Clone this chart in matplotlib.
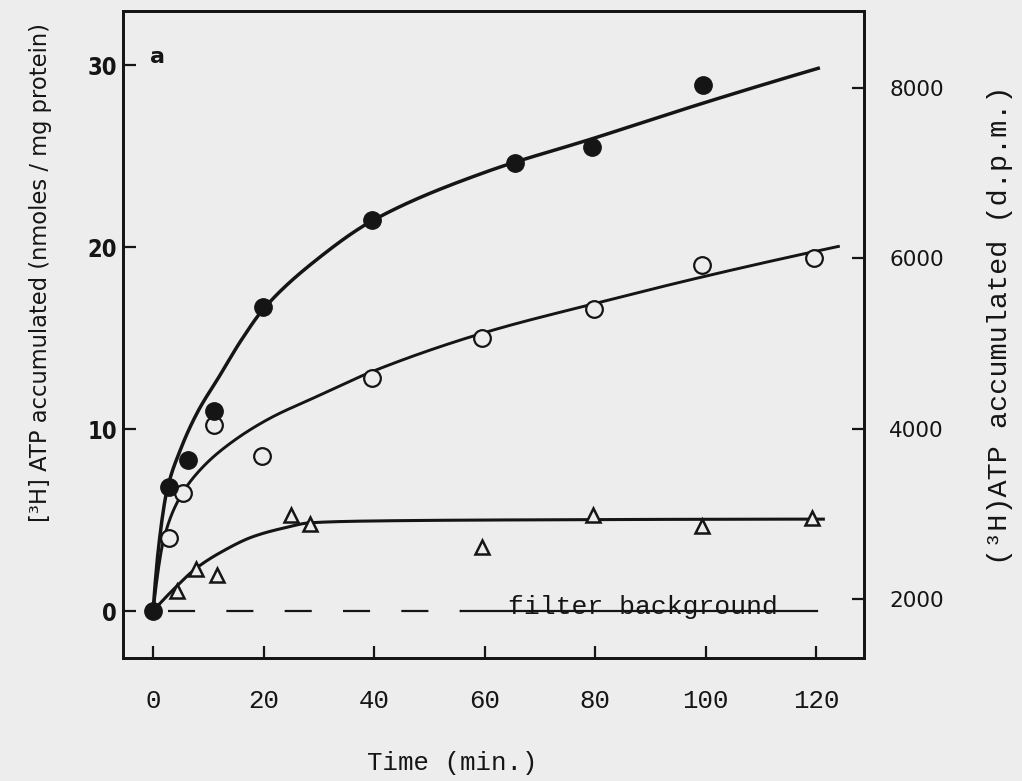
import numpy as np
import matplotlib
matplotlib.use("Agg")
import matplotlib.pyplot as plt

plt.rcParams["lines.scale_dashes"] = False

# --- measured points -------------------------------------------------------
time_filled = [0, 2.8, 6.4, 11.1, 19.9, 39.7, 65.6, 79.4, 99.5]
atp_filled = [0, 6.8, 8.3, 11.0, 16.7, 21.5, 24.6, 25.5, 28.9]

time_open = [2.9, 5.5, 11.1, 19.7, 39.6, 59.5, 79.8, 99.3, 119.7]
atp_open = [4.0, 6.5, 10.2, 8.5, 12.8, 15.0, 16.6, 19.0, 19.4]

time_tri = [4.4, 7.8, 11.6, 25.0, 28.4, 59.5, 79.7, 99.3, 119.2]
atp_tri = [1.1, 2.3, 2.0, 5.3, 4.8, 3.5, 5.3, 4.7, 5.1]

# --- hand-drawn trend curves (knots along each curve) ----------------------
curve_filled_t = [0, 1.0, 2.5, 5, 8, 12, 16, 20, 30, 40, 60, 80, 100, 120.7]
curve_filled_v = [0, 3.5, 6.6, 8.9, 10.9, 12.9, 14.9, 16.6, 19.4, 21.5, 24.1, 26.0, 27.95, 29.85]

curve_open_t = [0, 1.9, 4.6, 8.5, 13.9, 21.2, 29.0, 40, 60, 80, 100, 124.3]
curve_open_v = [0, 3.9, 6.1, 7.75, 9.2, 10.6, 11.7, 13.2, 15.3, 16.9, 18.4, 20.05]

curve_tri_t = [0, 4.4, 7.8, 12.1, 18.2, 24.2, 28.4, 40, 60, 121.6]
curve_tri_v = [0, 1.4, 2.35, 3.2, 4.1, 4.6, 4.85, 4.95, 5.0, 5.05]

# --- axis ticks ------------------------------------------------------------
x_ticks = [0, 20, 40, 60, 80, 100, 120]
y_ticks = [0, 10, 20, 30]
dpm_ticks = [2000, 4000, 6000, 8000]

# linear relation between the right (d.p.m.) and left (nmoles/mg) scales
dpm_slope = 0.004676
dpm_offset = -8.68


def pchip(x, y, xn):
    """Monotone cubic Hermite curve through the knots."""
    x = np.asarray(x, float)
    y = np.asarray(y, float)
    h = np.diff(x)
    d = np.diff(y) / h
    m = np.zeros_like(y)
    for k in range(1, len(x) - 1):
        if d[k - 1] * d[k] > 0:
            w1 = 2 * h[k] + h[k - 1]
            w2 = h[k] + 2 * h[k - 1]
            m[k] = (w1 + w2) / (w1 / d[k - 1] + w2 / d[k])
    m[0] = ((2 * h[0] + h[1]) * d[0] - h[0] * d[1]) / (h[0] + h[1])
    if np.sign(m[0]) != np.sign(d[0]):
        m[0] = 0
    m[-1] = ((2 * h[-1] + h[-2]) * d[-1] - h[-1] * d[-2]) / (h[-1] + h[-2])
    if np.sign(m[-1]) != np.sign(d[-1]):
        m[-1] = 0
    idx = np.clip(np.searchsorted(x, xn) - 1, 0, len(x) - 2)
    s = (xn - x[idx]) / h[idx]
    h00 = 2 * s**3 - 3 * s**2 + 1
    h10 = s**3 - 2 * s**2 + s
    h01 = -2 * s**3 + 3 * s**2
    h11 = s**3 - s**2
    return (h00 * y[idx] + h10 * h[idx] * m[idx]
            + h01 * y[idx + 1] + h11 * h[idx] * m[idx + 1])


paper = "#ededed"
ink = "#151515"
mono = "Liberation Mono"

fig = plt.figure(figsize=(10.22, 7.81), dpi=100, facecolor=paper)
ax = fig.add_axes([0.1204, 0.1575, 0.7251, 0.8284], facecolor=paper)

xlim = (-5.43, 128.7)
ylim = (-2.58, 32.97)
ax.set_xlim(*xlim)
ax.set_ylim(*ylim)

for name, spine in ax.spines.items():
    spine.set_linewidth(2.0)
    spine.set_color(ink)

# trend curves
for ts, vs, lw in [(curve_filled_t, curve_filled_v, 2.5),
                   (curve_open_t, curve_open_v, 2.1),
                   (curve_tri_t, curve_tri_v, 2.2)]:
    tt = np.linspace(ts[0], ts[-1], 600)
    ax.plot(tt, pchip(ts, vs, tt), color=ink, lw=lw, solid_capstyle="butt",
            zorder=2)

# filter background baseline
ax.plot([2.7, 55.7], [0, 0], color=ink, lw=1.6, dashes=(19.5, 22.5), zorder=1)
ax.plot([55.7, 120.2], [0, 0], color=ink, lw=1.6, zorder=1)
ax.text(88.6, -0.15, "filter background", fontfamily=mono, fontsize=19,
        ha="center", va="baseline", color=ink, zorder=3)

# data markers
ax.plot(time_tri, atp_tri, linestyle="none", marker="^", ms=9.5, mfc=paper,
        mec=ink, mew=1.8, zorder=4)
ax.plot(time_open, atp_open, linestyle="none", marker="o", ms=12, mfc=paper,
        mec=ink, mew=1.6, zorder=4)
ax.plot(time_filled, atp_filled, linestyle="none", marker="o", ms=12.5,
        mfc=ink, mec=ink, mew=1.0, zorder=5)

ax.text(0.047, 0.929, "a", transform=ax.transAxes, fontfamily="DejaVu Sans",
        fontweight="bold", fontsize=16, ha="center", va="center", color=ink)

# left axis
ax.set_yticks(y_ticks)
ax.set_yticklabels([str(v) for v in y_ticks], fontfamily="DejaVu Sans",
                   fontstretch="condensed", fontweight="bold", fontsize=17)
ax.tick_params(axis="y", direction="in", length=9, width=1.6, pad=4.5,
               colors=ink, right=False)

# bottom axis
ax.set_xticks(x_ticks)
ax.set_xticklabels([str(v) for v in x_ticks], fontfamily=mono, fontsize=18.5)
ax.tick_params(axis="x", direction="in", length=9, width=1.6, pad=22,
               colors=ink, top=False)

# right axis in d.p.m.
ax2 = ax.twinx()
ax2.set_ylim((ylim[0] - dpm_offset) / dpm_slope, (ylim[1] - dpm_offset) / dpm_slope)
ax2.set_yticks(dpm_ticks)
ax2.set_yticklabels([str(v) for v in dpm_ticks], fontfamily="DejaVu Sans",
                    fontsize=15.5)
ax2.tick_params(axis="y", direction="in", length=9, width=1.6, pad=18,
                colors=ink)
for spine in ax2.spines.values():
    spine.set_linewidth(2.0)
    spine.set_color(ink)

# axis titles
fig.text(0.0401, 0.6517, "[\u00b3H] ATP accumulated (nmoles / mg protein)",
         rotation=90, ha="center", va="center", fontfamily="DejaVu Sans",
         fontsize=16.3, color=ink)
fig.text(0.9785, 0.5839, "(\u00b3H)ATP accumulated (d.p.m.)", rotation=90,
         ha="center", va="center", fontfamily=mono, fontsize=20.5, color=ink)
fig.text(0.4423, 0.0230, "Time (min.)", ha="center", va="center",
         fontfamily=mono, fontsize=18.5, color=ink)

fig.savefig("out.png", dpi=100, facecolor=paper)
